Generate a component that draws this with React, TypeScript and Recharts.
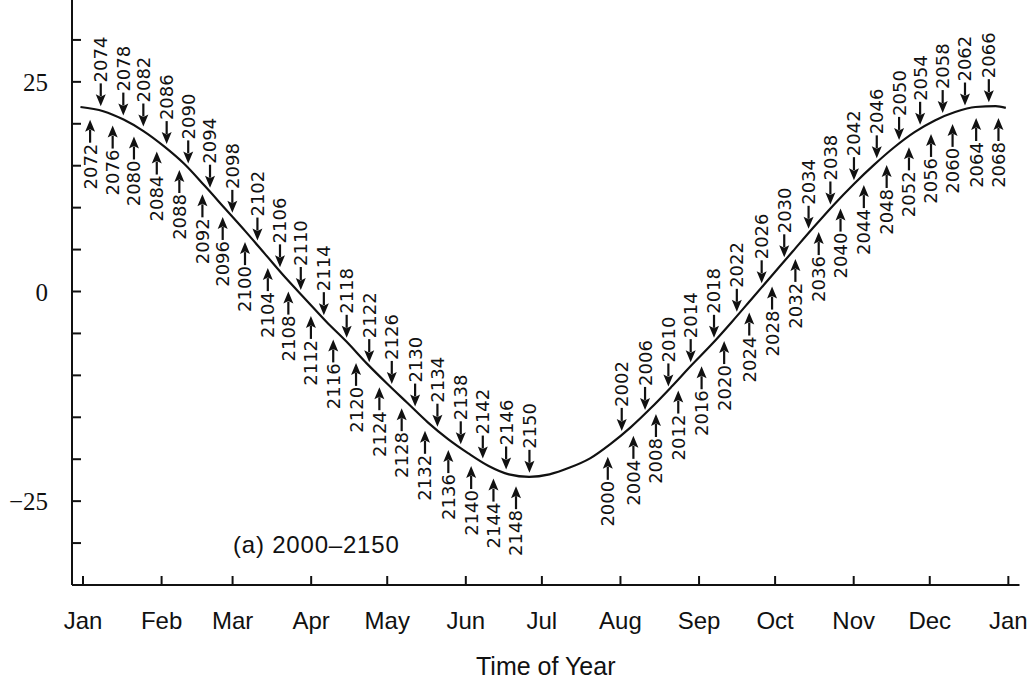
import { ComposedChart, Line, Scatter, XAxis, YAxis } from "recharts";

// curve: day of year -> value
const curveDays = [-1, 8, 16, 24, 32, 40, 48, 56, 64, 72, 80, 88, 96, 104, 112, 120, 128, 136, 144, 152, 160, 168, 176, 184, 192, 200, 208, 216, 224, 232, 240, 248, 256, 264, 272, 280, 288, 296, 304, 312, 320, 328, 336, 344, 352, 360, 364];
const curveValues = [22.0, 21.5, 20.5, 19.1, 17.3, 15.2, 12.6, 9.9, 7.2, 4.4, 1.6, -1.0, -3.6, -6.0, -8.6, -11.0, -13.3, -15.6, -17.6, -19.3, -20.8, -21.8, -22.1, -21.8, -21.0, -19.9, -18.2, -16.2, -13.9, -11.4, -8.8, -6.3, -3.6, -0.8, 2.0, 4.8, 7.6, 10.3, 12.8, 15.1, 17.2, 19.0, 20.4, 21.4, 22.0, 22.1, 21.9];

const monthTicks = [0, 31, 59, 90, 120, 151, 181, 212, 243, 273, 304, 334, 365];
const monthLabels = ["Jan", "Feb", "Mar", "Apr", "May", "Jun", "Jul", "Aug", "Sep", "Oct", "Nov", "Dec", "Jan"];

const valueTicks = [-30, -25, -20, -15, -10, -5, 0, 5, 10, 15, 20, 25, 30];
const valueLabels = ["", "\u221225", "", "", "", "", "0", "", "", "", "", "25", ""];

// years whose arrow points up at the curve (label below)
const lowYears = [2000, 2004, 2008, 2012, 2016, 2020, 2024, 2028, 2032, 2036, 2040, 2044, 2048, 2052, 2056, 2060, 2064, 2068, 2072, 2076, 2080, 2084, 2088, 2092, 2096, 2100, 2104, 2108, 2112, 2116, 2120, 2124, 2128, 2132, 2136, 2140, 2144, 2148];
const lowDays = [207.0, 217.1, 226.0, 234.8, 244.0, 252.9, 262.8, 271.8, 281.0, 290.2, 298.8, 308.0, 317.0, 325.8, 334.5, 343.0, 352.3, 361.1, 2.8, 11.7, 20.1, 29.1, 38.0, 47.1, 55.1, 63.9, 72.9, 81.0, 89.9, 98.7, 107.7, 116.9, 125.7, 134.9, 144.1, 153.1, 161.9, 170.8];
const lowValues = [-18.4, -15.9, -13.3, -10.5, -7.6, -4.6, -1.2, 1.9, 5.2, 8.4, 11.2, 14.0, 16.4, 18.5, 20.1, 21.3, 22.0, 22.0, 21.8, 21.1, 19.8, 18.0, 15.8, 12.9, 10.2, 7.2, 4.1, 1.3, -1.6, -4.4, -7.2, -10.1, -12.6, -15.3, -17.6, -19.5, -21.0, -21.9];

// years whose arrow points down at the curve (label above)
const highYears = [2002, 2006, 2010, 2014, 2018, 2022, 2026, 2030, 2034, 2038, 2042, 2046, 2050, 2054, 2058, 2062, 2066, 2074, 2078, 2082, 2086, 2090, 2094, 2098, 2102, 2106, 2110, 2114, 2118, 2122, 2126, 2130, 2134, 2138, 2142, 2146, 2150];
const highDays = [212.5, 221.7, 230.9, 239.7, 248.9, 257.9, 267.7, 276.6, 286.2, 294.8, 304.1, 313.1, 321.9, 330.2, 339.1, 347.9, 357.3, 7.0, 15.9, 23.8, 33.0, 41.5, 50.1, 58.9, 68.8, 77.7, 85.9, 95.0, 104.0, 112.9, 121.8, 131.0, 139.8, 149.0, 157.7, 166.9, 176.1];
const highValues = [-17.1, -14.6, -11.8, -8.9, -6.0, -2.9, 0.5, 3.6, 7.0, 9.9, 12.8, 15.4, 17.6, 19.4, 20.8, 21.7, 22.1, 21.6, 20.5, 19.2, 17.1, 14.8, 11.9, 8.9, 5.6, 2.4, -0.3, -3.3, -6.0, -8.9, -11.5, -14.2, -16.6, -18.7, -20.4, -21.7, -22.1];

const curve = curveDays.map((day, i) => ({ day, v: curveValues[i] }));
const marks = [
  ...lowYears.map((year, i) => ({ day: lowDays[i], v: lowValues[i], year, low: true })),
  ...highYears.map((year, i) => ({ day: highDays[i], v: highValues[i], year, low: false })),
];

const INK = "#111";
const SANS = "'Liberation Sans', Arial, sans-serif";

function YearMark(props: any) {
  const { cx, cy, payload } = props;
  if (cx == null || cy == null) return null;
  const dir = payload.low ? 1 : -1;
  const tip = payload.low ? cy + 11 : cy - 4;
  const head = tip + dir * 12;
  const tail = tip + dir * 23;
  const ty = tail + dir * 1;
  return (
    <g>
      <line x1={cx} y1={head - dir * 2} x2={cx} y2={tail} stroke={INK} strokeWidth={2.2} />
      <polygon
        points={`${cx},${tip} ${cx - 5},${head} ${cx},${head - dir * 2.5} ${cx + 5},${head}`}
        fill={INK}
      />
      <text
        x={cx}
        y={ty}
        dy="0.36em"
        transform={`rotate(-90 ${cx} ${ty})`}
        textAnchor={payload.low ? "end" : "start"}
        fontFamily="'DejaVu Sans', sans-serif"
        fontSize={18}
        fill={INK}
      >
        {payload.year}
      </text>
    </g>
  );
}

function BottomTick(props: any) {
  const { x, y, payload } = props;
  const i = monthTicks.indexOf(payload.value);
  return (
    <g>
      <line x1={x} y1={y} x2={x} y2={y - 9} stroke={INK} strokeWidth={2} />
      <text x={x} y={y + 44} textAnchor="middle" fontFamily={SANS} fontSize={24} fill={INK}>
        {monthLabels[i]}
      </text>
    </g>
  );
}

function TopTick(props: any) {
  const { x, y } = props;
  return <line x1={x} y1={y} x2={x} y2={y + 11} stroke={INK} strokeWidth={2} />;
}

function LeftTick(props: any) {
  const { x, y, payload } = props;
  const i = valueTicks.indexOf(payload.value);
  return (
    <g>
      <line x1={x} y1={y} x2={x + 9} y2={y} stroke={INK} strokeWidth={2} />
      <text x={x - 24} y={y + 9} textAnchor="end" fontFamily="'Liberation Serif', serif" fontSize={25} fill={INK}>
        {valueLabels[i]}
      </text>
    </g>
  );
}

function RightTick(props: any) {
  const { x, y } = props;
  return <line x1={x} y1={y} x2={x - 9} y2={y} stroke={INK} strokeWidth={2} />;
}

function AxisTexts(props: any) {
  const { x, y, width } = props.viewBox;
  return (
    <g fontFamily={SANS} fill={INK}>
      <text x={x + width / 2} y={y + 90} textAnchor="middle" fontSize={25}>
        Time of Year
      </text>
      <text x={x + 161} y={y - 32} fontSize={24} letterSpacing={0.8}>
        (a) 2000–2150
      </text>
    </g>
  );
}

export default function App() {
  const axisLine = { stroke: INK, strokeWidth: 2 };
  return (
    <div style={{ position: "absolute", left: 0, top: -2, background: "#fff" }}>
      <ComposedChart width={1028} height={683} data={curve} margin={{ top: 0, right: 8.5, bottom: 0, left: 0 }}>
        <XAxis
          dataKey="day"
          type="number"
          domain={[-4.34, 369.4]}
          allowDataOverflow
          ticks={monthTicks}
          interval={0}
          height={96}
          axisLine={axisLine}
          tickLine={false}
          tickSize={0}
          tickMargin={0}
          tick={<BottomTick />}
          label={<AxisTexts />}
        />
        <XAxis
          xAxisId="top"
          orientation="top"
          dataKey="day"
          type="number"
          domain={[-4.34, 369.4]}
          allowDataOverflow
          ticks={monthTicks}
          interval={0}
          height={0}
          axisLine={axisLine}
          tickLine={false}
          tickSize={0}
          tickMargin={0}
          tick={<TopTick />}
        />
        <YAxis
          type="number"
          domain={[-35, 35]}
          allowDataOverflow
          ticks={valueTicks}
          interval={0}
          width={72}
          axisLine={axisLine}
          tickLine={false}
          tickSize={0}
          tickMargin={0}
          tick={<LeftTick />}
        />
        <YAxis
          yAxisId="right"
          orientation="right"
          type="number"
          domain={[-35, 35]}
          allowDataOverflow
          ticks={valueTicks}
          interval={0}
          width={0}
          axisLine={axisLine}
          tickLine={false}
          tickSize={0}
          tickMargin={0}
          tick={<RightTick />}
        />
        <Line
          dataKey="v"
          type="monotone"
          stroke={INK}
          strokeWidth={2.2}
          dot={false}
          activeDot={false}
          isAnimationActive={false}
        />
        <Scatter data={marks} dataKey="v" shape={YearMark} isAnimationActive={false} />
      </ComposedChart>
    </div>
  );
}
